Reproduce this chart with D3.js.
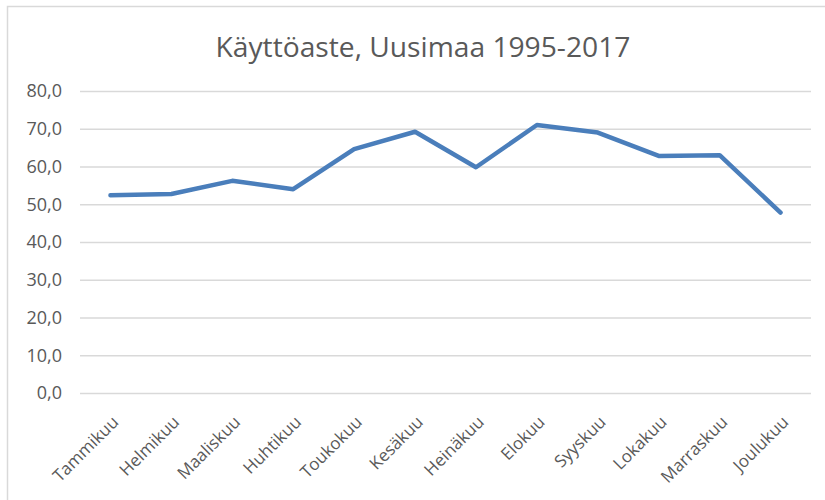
<!DOCTYPE html>
<html>
<head>
<meta charset="utf-8">
<script src="https://cdn.jsdelivr.net/npm/d3@7"></script>
<style>
  body { margin: 0; background: #fff; }
  text { font-family: "Open Sans", sans-serif; fill: #595959; }
</style>
</head>
<body>
<svg width="825" height="500"></svg>
<script>
const months = ["Tammikuu", "Helmikuu", "Maaliskuu", "Huhtikuu", "Toukokuu", "Kesäkuu",
    "Heinäkuu", "Elokuu", "Syyskuu", "Lokakuu", "Marraskuu", "Joulukuu"]
const kayttoaste = [52.4, 52.7, 56.2, 54.0, 64.6, 69.2, 59.8, 71.0, 69.0, 62.8, 63.0, 47.8]
const yTicks = [0, 10, 20, 30, 40, 50, 60, 70, 80]

var svg = d3.select("svg")

// chart frame
svg.append("rect")
    .attr("x", 7.5)
    .attr("y", 6.5)
    .attr("width", 830)
    .attr("height", 500)
    .attr("fill", "#fff")
    .attr("stroke", "#d9d9d9")
    .attr("stroke-width", 1.5)

var title = svg.append("text")
    .attr("x", 423)
    .attr("y", 57)
    .attr("text-anchor", "middle")
    .style("font-size", "22px")
    .text("Käyttöaste, Uusimaa 1995-2017")
// scale the font so the title is as wide as in the original
var tw = title.node().getComputedTextLength()
title.style("font-size", (22 * 415 / tw) + "px")

var x = d3.scaleBand().domain(months).range([80, 811])
var y = d3.scaleLinear().domain([0, 80]).range([393, 91])

var yAxis = svg.append("g")
    .attr("transform", "translate(80,0)")
    .call(d3.axisLeft(y).tickValues(yTicks).tickSize(-731).tickPadding(18)
        .tickFormat(d => d3.format(".1f")(d).replace(".", ",")))
yAxis.select(".domain").remove()
yAxis.selectAll("line").attr("stroke", "#d9d9d9").attr("stroke-width", 1.5)
yAxis.selectAll("text").style("font-size", "18px").attr("fill", "#595959")

var xAxis = svg.append("g")
    .attr("transform", "translate(0,393)")
    .call(d3.axisBottom(x).tickSize(0))
xAxis.select(".domain").remove()
xAxis.selectAll("text")
    .style("font-size", "17px")
    .attr("fill", "#595959")
    .attr("text-anchor", "end")
    .attr("dy", 0)
    .attr("transform", "translate(7,28) rotate(-45)")

var line = d3.line()
    .x((d, i) => x(months[i]) + x.bandwidth() / 2)
    .y(d => y(d))

svg.append("path")
    .datum(kayttoaste)
    .attr("d", line)
    .attr("fill", "none")
    .attr("stroke", "#4a7ebb")
    .attr("stroke-width", 4.5)
    .attr("stroke-linejoin", "round")
    .attr("stroke-linecap", "round")
</script>
</body>
</html>
